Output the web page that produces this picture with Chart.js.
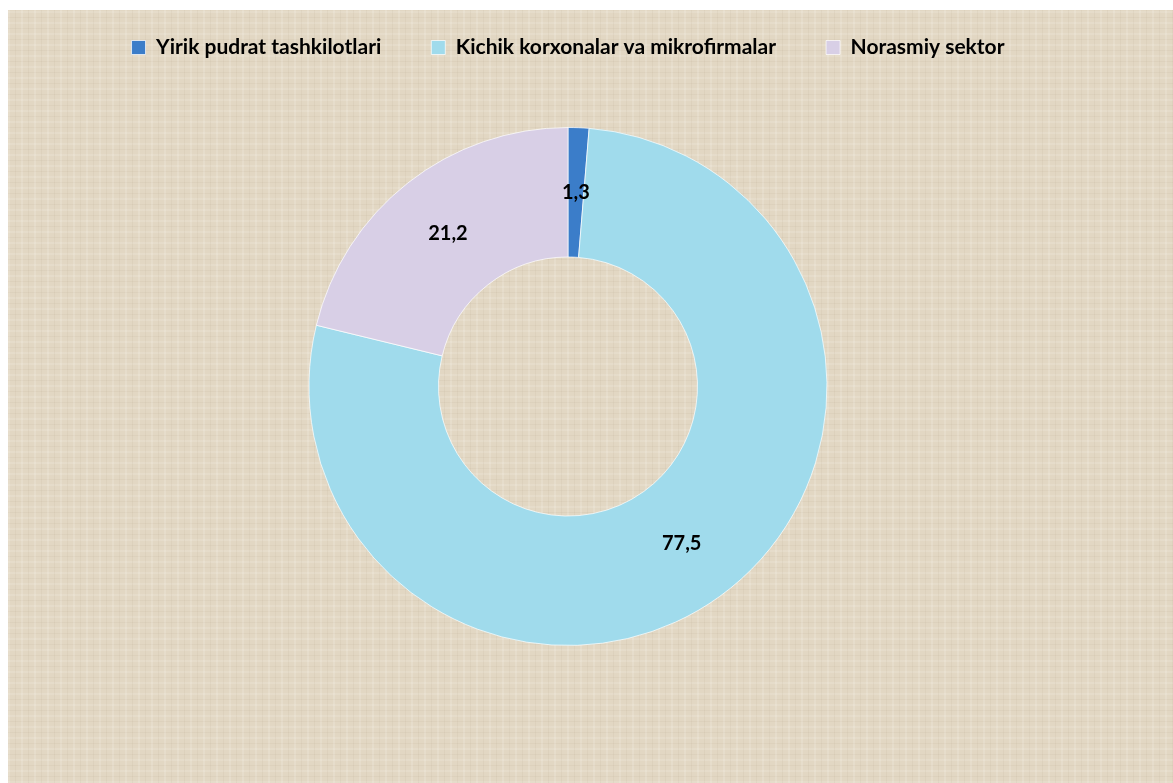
<html lang="uz">
<head>
    <meta charset="UTF-8">
    <title>Doughnut</title>
    <script src="https://cdn.jsdelivr.net/npm/chart.js"></script>
    <style>
        body { margin: 0; background: #fff; }
        #frame {
            position: absolute; left: 8px; top: 10px; width: 1165px; height: 773px; overflow: hidden;
            background-color: #e2d7c3;
            background-image:
                repeating-linear-gradient(90deg, rgba(255,255,255,0.14) 0 2px, transparent 2px 7px, rgba(150,130,100,0.07) 7px 8px, transparent 8px 13px),
                repeating-linear-gradient(0deg, rgba(255,255,255,0.12) 0 2px, transparent 2px 6px, rgba(150,130,100,0.07) 6px 7px, transparent 7px 11px);
        }
        #chart { position: absolute; left: 0; top: -23px; }
    </style>
</head>
<body>
    <div id="frame"><canvas id="chart" width="1165" height="800"></canvas></div>

    <script>
        // chart data
        const labels = ['Yirik pudrat tashkilotlari', 'Kichik korxonalar va mikrofirmalar', 'Norasmiy sektor'];
        const values = [1.3, 77.5, 21.2];
        const colors = ['#3b7dc9', '#a0dbec', '#d8cfe6'];

        // space under the legend
        const legendGap = {
            id: 'legendGap',
            beforeInit(chart) {
                const fit = chart.legend.fit;
                chart.legend.fit = function () {
                    fit.bind(chart.legend)();
                    this.height += 59;
                };
            }
        };

        // value labels in the middle of each ring slice
        const sliceLabels = {
            id: 'sliceLabels',
            afterDatasetsDraw(chart) {
                const ctx = chart.ctx;
                const meta = chart.getDatasetMeta(0);
                ctx.save();
                ctx.font = 'bold 20px Lato, "Open Sans", sans-serif';
                ctx.fillStyle = '#000';
                ctx.textAlign = 'center';
                ctx.textBaseline = 'middle';
                meta.data.forEach((arc, i) => {
                    const p = arc.tooltipPosition();
                    ctx.fillText(values[i].toFixed(1).replace('.', ','), p.x, p.y);
                });
                ctx.restore();
            }
        };

        new Chart(document.getElementById('chart'), {
            type: 'doughnut',
            data: {
                labels: labels,
                datasets: [{
                    data: values,
                    backgroundColor: colors,
                    borderColor: 'rgba(255,255,255,0.7)',
                    borderWidth: 1
                }]
            },
            options: {
                responsive: false,
                animation: false,
                cutout: '50%',
                layout: { padding: { top: 0, bottom: 141, left: 0, right: 45 } },
                plugins: {
                    legend: {
                        position: 'top',
                        labels: {
                            boxWidth: 14,
                            boxHeight: 14,
                            padding: 50,
                            color: '#000',
                            font: { family: 'Lato, "Open Sans", sans-serif', size: 21, weight: 'bold' }
                        }
                    },
                    tooltip: { enabled: false }
                }
            },
            plugins: [legendGap, sliceLabels]
        });
    </script>
</body>
</html>
